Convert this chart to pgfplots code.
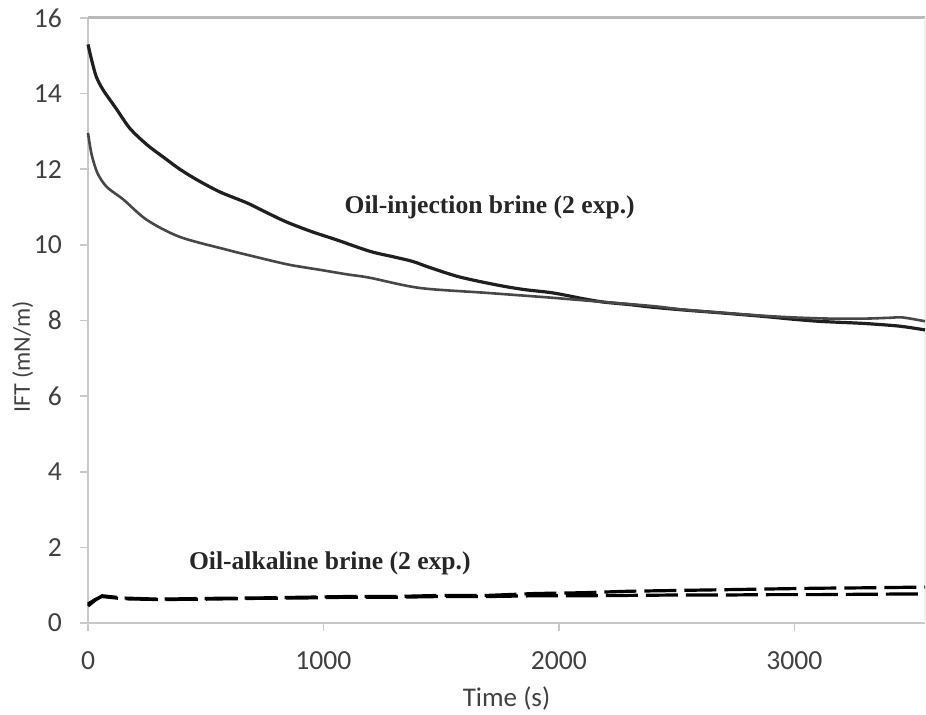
\documentclass[border=0pt]{standalone}
\usepackage{pgfplots}
\pgfplotsset{compat=1.18}
\usepackage{fontspec}
\setmainfont{Carlito}
\newfontfamily\timesfont{Liberation Serif}
\definecolor{tickgray}{HTML}{404040}
\definecolor{axgray}{HTML}{C8C8C8}
\begin{document}
\begin{tikzpicture}
\begin{axis}[
  at={(0,0)}, anchor=south west,
  scale only axis, width=418.5pt, height=302.5pt,
  xmin=0, xmax=3555, ymin=0, ymax=16,
  xtick={0,1000,2000,3000}, ytick={0,2,...,16},
  axis x line*=bottom, axis y line*=left,
  axis line style={axgray, line width=1pt, -},
  tick align=outside, major tick length=4pt,
  tick style={axgray, line width=0.8pt},
  /pgf/number format/assume math mode=true,
  /pgf/number format/1000 sep={},
  ticklabel style={font=\fontsize{13.8}{15}\selectfont, text=tickgray},
  xticklabel style={yshift=-7pt},
  yticklabel style={xshift=-5.5pt},
  xlabel={Time (s)}, ylabel={IFT (mN/m)},
  xlabel style={font=\fontsize{13.5}{15}\selectfont, text=tickgray, at={(axis description cs:0.5,0)}, anchor=center, yshift=-38pt},
  ylabel style={font=\fontsize{12}{14}\selectfont, text=tickgray, at={(axis description cs:-0.078,0.44)}, anchor=center},
  clip=false,
]
\draw[gray!55, line width=1.5pt] (rel axis cs:0,1) -- (rel axis cs:1,1);
\draw[gray!12, line width=1pt] (rel axis cs:1,0) -- (rel axis cs:1,1);
\addplot[black!88, line width=1.6pt, smooth] coordinates {
(0,15.3) (15,14.9) (35,14.45) (64,14.1) (120,13.6) (178,13.08) (250,12.65) (318,12.33) (390,12.0) (463,11.72) (560,11.4) (675,11.11) (760,10.85) (845,10.6) (950,10.35) (1057,10.13) (1197,9.83) (1300,9.68) (1380,9.56) (1452,9.40) (1579,9.15) (1736,8.94) (1850,8.82) (1974,8.73) (2100,8.58) (2186,8.49) (2300,8.42) (2400,8.35) (2525,8.28) (2650,8.22) (2750,8.17) (2882,8.10) (3000,8.03) (3100,7.98) (3162,7.96) (3300,7.92) (3447,7.85) (3555,7.75)
};
\addplot[black!72, line width=1.3pt, smooth] coordinates {
(0,12.96) (15,12.4) (40,11.9) (80,11.53) (150,11.2) (250,10.66) (390,10.21) (590,9.87) (700,9.70) (850,9.48) (985,9.34) (1100,9.22) (1197,9.13) (1409,8.86) (1694,8.73) (1974,8.6) (2186,8.49) (2400,8.38) (2525,8.29) (2700,8.2) (2882,8.12) (3000,8.08) (3150,8.05) (3300,8.05) (3400,8.07) (3460,8.08) (3555,7.98)
};
\addplot[black, line width=1.6pt, dash pattern=on 16pt off 4pt] coordinates {
(0,0.45) (30,0.6) (60,0.72) (150,0.66) (300,0.63) (500,0.65) (700,0.66) (900,0.68) (1100,0.7) (1300,0.7) (1500,0.73) (1700,0.73) (1900,0.78) (2100,0.8) (2300,0.84) (2500,0.86) (2700,0.88) (2900,0.9) (3100,0.92) (3300,0.93) (3555,0.95)
};
\addplot[black, line width=1.6pt, dash pattern=on 16pt off 4pt] coordinates {
(0,0.5) (30,0.62) (60,0.7) (150,0.64) (300,0.62) (500,0.63) (700,0.65) (900,0.66) (1100,0.68) (1300,0.68) (1500,0.7) (1700,0.7) (1900,0.72) (2100,0.72) (2300,0.73) (2500,0.74) (2700,0.74) (2900,0.75) (3100,0.75) (3300,0.76) (3555,0.77)
};
\node[font=\timesfont\bfseries\fontsize{12.8}{15}\selectfont, text=black!85] at (axis cs:1706,11.0) {Oil-injection brine (2 exp.)};
\node[font=\timesfont\bfseries\fontsize{12.8}{15}\selectfont, text=black!85] at (axis cs:1027,1.59) {Oil-alkaline brine (2 exp.)};
\end{axis}
\pgfresetboundingbox
\path[use as bounding box] (-44pt,-46pt) rectangle (419pt,311.5pt);
\end{tikzpicture}
\end{document}
